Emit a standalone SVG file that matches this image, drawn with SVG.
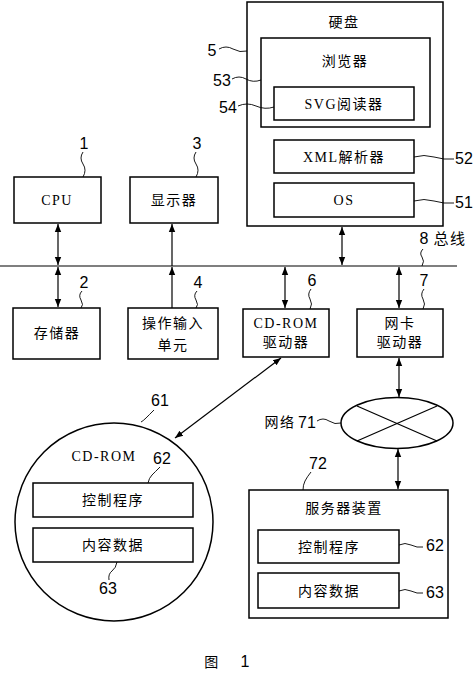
<svg xmlns="http://www.w3.org/2000/svg" width="474" height="676" viewBox="0 0 474 676">
<defs>
<marker id="ah" viewBox="0 0 10 10" refX="10" refY="5" markerWidth="8" markerHeight="8" markerUnits="userSpaceOnUse" orient="auto-start-reverse">
<path d="M0,1 L10,5 L0,9 Z" fill="#000"/>
</marker>
</defs>
<style>
.b{fill:#fff;stroke:#000;stroke-width:1.5}
.t{font-family:"Liberation Serif","Noto Sans CJK SC",serif;font-size:14px;text-anchor:middle;fill:#000;letter-spacing:1.5px}
.n{font-family:"Liberation Sans","Noto Sans CJK SC",sans-serif;font-size:16px;text-anchor:middle;fill:#000}
.c{fill:none;stroke:#000;stroke-width:1.2}
.a{fill:none;stroke:#000;stroke-width:1.2;marker-start:url(#ah);marker-end:url(#ah)}
.e{fill:none;stroke:#000;stroke-width:1.2;marker-end:url(#ah)}
.l{fill:none;stroke:#000;stroke-width:0.9}
</style>
<rect width="474" height="676" fill="#fff"/>

<g id="harddisk">
<rect class="b" x="247" y="2" width="196" height="224"/>
<text class="t" x="344" y="27">硬盘</text>
</g>
<g id="browser">
<rect class="b" x="261" y="38" width="169" height="89"/>
<text class="t" x="345" y="66">浏览器</text>
</g>
<g id="svgreader">
<rect class="b" x="274" y="87" width="140" height="33"/>
<text class="t" x="344" y="109">SVG阅读器</text>
</g>
<g id="xmlparser">
<rect class="b" x="274" y="140" width="140" height="33"/>
<text class="t" x="344" y="162">XML解析器</text>
</g>
<g id="os">
<rect class="b" x="274" y="183" width="140" height="34"/>
<text class="t" x="344" y="205">OS</text>
</g>
<g id="cpu">
<rect class="b" x="14" y="177" width="87" height="46"/>
<text class="t" x="57" y="205">CPU</text>
</g>
<g id="display">
<rect class="b" x="130" y="177" width="88" height="46"/>
<text class="t" x="174" y="205">显示器</text>
</g>
<g id="memory">
<rect class="b" x="13" y="308" width="87" height="51"/>
<text class="t" x="57" y="338">存储器</text>
</g>
<g id="input">
<rect class="b" x="128" y="308" width="90" height="51"/>
<text class="t" x="173" y="328">操作输入</text>
<text class="t" x="173" y="350">单元</text>
</g>
<g id="cdromdrive">
<rect class="b" x="243" y="309" width="86" height="48"/>
<text class="t" x="286" y="328">CD-ROM</text>
<text class="t" x="286" y="347">驱动器</text>
</g>
<g id="nicdrive">
<rect class="b" x="357" y="309" width="86" height="48"/>
<text class="t" x="400" y="328">网卡</text>
<text class="t" x="400" y="347">驱动器</text>
</g>
<g id="network">
<ellipse class="b" cx="397" cy="423" rx="56" ry="25.5"/>
<path class="c" d="M357,406 L437,441 M437,406 L357,441"/>
</g>
<g id="cdrom">
<circle class="b" cx="114" cy="522" r="99"/>
<text class="t" x="104" y="461">CD-ROM</text>
</g>
<g id="cd-control">
<rect class="b" x="33" y="483" width="160" height="34"/>
<text class="t" x="113" y="505">控制程序</text>
</g>
<g id="cd-content">
<rect class="b" x="33" y="528" width="160" height="34"/>
<text class="t" x="113" y="550">内容数据</text>
</g>
<g id="server">
<rect class="b" x="249" y="490" width="199" height="128"/>
<text class="t" x="344" y="513">服务器装置</text>
</g>
<g id="srv-control">
<rect class="b" x="258" y="530" width="141" height="33"/>
<text class="t" x="329" y="552">控制程序</text>
</g>
<g id="srv-content">
<rect class="b" x="258" y="573" width="141" height="35"/>
<text class="t" x="329" y="596">内容数据</text>
</g>

<g id="connectors">
<line class="c" x1="0" y1="266" x2="457" y2="266"/>
<line class="a" x1="58" y1="224" x2="58" y2="265"/>
<line class="a" x1="58" y1="267" x2="58" y2="307"/>
<line class="e" x1="172" y1="266" x2="172" y2="224"/>
<line class="e" x1="172" y1="308" x2="172" y2="267"/>
<line class="a" x1="342" y1="227" x2="342" y2="265"/>
<line class="a" x1="285" y1="267" x2="285" y2="308"/>
<line class="a" x1="399" y1="267" x2="399" y2="308"/>
<line class="a" x1="399" y1="358" x2="399" y2="397"/>
<line class="a" x1="398" y1="449" x2="398" y2="489"/>
<line class="a" x1="281" y1="358" x2="175" y2="438"/>
</g>

<g id="labels">
<text class="n" x="212" y="56">5</text>
<path class="l" d="M219,49 q7,-4 14,0 t14,2"/>
<text class="n" x="222" y="86">53</text>
<path class="l" d="M232,79 q7,-4 14,0 t15,1"/>
<text class="n" x="228" y="113">54</text>
<path class="l" d="M238,106 q9,-4 18,0 t18,1"/>
<text class="n" x="464" y="164">52</text>
<path class="l" d="M414,157 q10,-3 20,0 t20,2"/>
<text class="n" x="464" y="208">51</text>
<path class="l" d="M414,201 q10,-3 20,0 t20,2"/>
<text class="n" x="84" y="149">1</text>
<path class="l" d="M83,152 q-4,6 0,12 t0,13"/>
<text class="n" x="197" y="149">3</text>
<path class="l" d="M196,152 q-4,6 0,12 t0,13"/>
<text class="n" x="84" y="288">2</text>
<path class="l" d="M82,291 q-4,4 -1,9 t0,8"/>
<text class="n" x="198" y="288">4</text>
<path class="l" d="M197,291 q-4,4 -1,9 t0,8"/>
<text class="n" x="312" y="286">6</text>
<path class="l" d="M311,289 q-4,5 -1,10 t0,10"/>
<text class="n" x="424" y="286">7</text>
<path class="l" d="M424,289 q-4,5 -1,10 t0,10"/>
<text class="n" x="424" y="244">8</text>
<text class="t" x="450" y="244" style="font-size:15px">总线</text>
<path class="l" d="M423,249 q-4,4 -1,8 t0,9"/>
<text class="n" x="160" y="406">61</text>
<path class="l" d="M154,410 q-5,5 -8,8 t-5,4"/>
<text class="n" x="162" y="464">62</text>
<path class="l" d="M160,467 q-5,5 -8,8 t-4,8"/>
<text class="n" x="108" y="594">63</text>
<path class="l" d="M117,562 q-1,6 -5,9 t-3,9"/>
<text class="t" x="280" y="427">网络</text>
<text class="n" x="307" y="428">71</text>
<path class="l" d="M317,421 q6,-4 12,0 t12,2"/>
<text class="n" x="318" y="469">72</text>
<path class="l" d="M311,472 q-4,5 -6,9 t-2,9"/>
<text class="n" x="435" y="551">62</text>
<path class="l" d="M399,545 q6,-3 12,0 t12,2"/>
<text class="n" x="435" y="598">63</text>
<path class="l" d="M399,591 q6,-3 12,0 t12,2"/>
</g>
<text class="t" x="212" y="667">图</text>
<text class="n" x="245" y="667">1</text>
</svg>
